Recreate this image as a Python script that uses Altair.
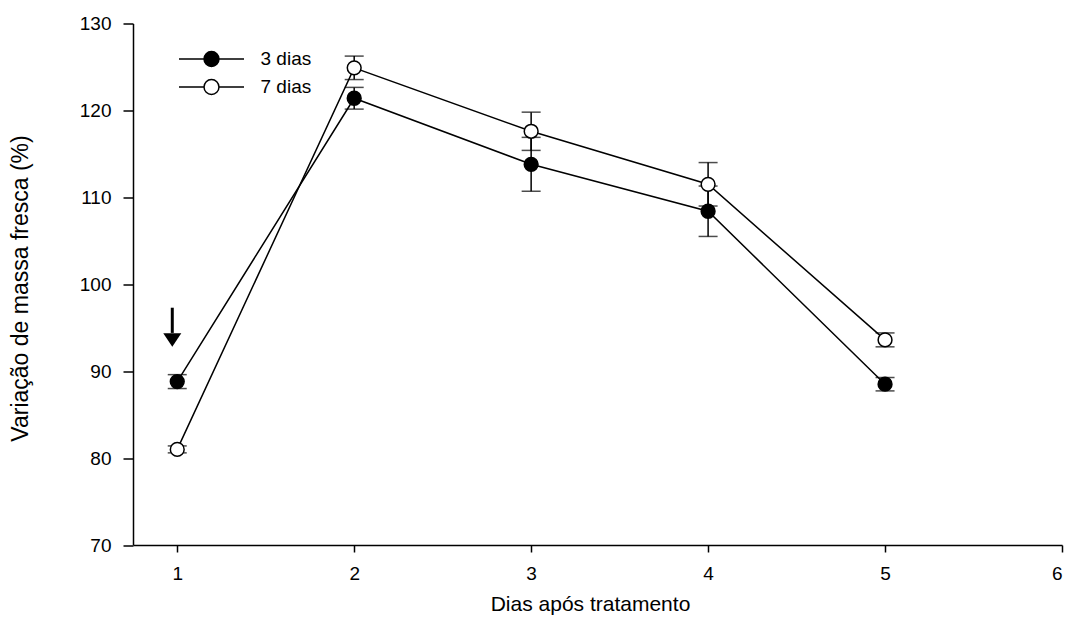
import altair as alt
import pandas as pd

# Fresh-mass variation per day after treatment, two treatment lengths
days = [1, 2, 3, 4, 5]
mean_3 = [88.8, 121.4, 113.8, 108.4, 88.5]
err_3 = [0.8, 1.25, 3.1, 2.9, 0.77]
mean_7 = [81.0, 124.9, 117.6, 111.5, 93.6]
err_7 = [0.4, 1.35, 2.2, 2.5, 0.8]
series = ["3 dias", "7 dias"]

# Arrow marking day 1
arrow_x = [0.972]
arrow_top = [97.3]
arrow_base = [94.4]
arrow_head = [93.6]

rows = []
for name, means, errs in ((series[0], mean_3, err_3), (series[1], mean_7, err_7)):
    for d, m, e in zip(days, means, errs):
        rows.append({"dia": d, "serie": name, "media": m, "lo": m - e, "hi": m + e})
df = pd.DataFrame(rows)
arrow_df = pd.DataFrame({"x": arrow_x, "top": arrow_top, "base": arrow_base, "head": arrow_head})

FONT = "Liberation Sans"

x_scale = alt.Scale(domain=[0.75, 6], nice=False, zero=False)
y_scale = alt.Scale(domain=[70, 130], nice=False, zero=False)

x_axis = alt.Axis(
    values=[1, 2, 3, 4, 5, 6], format="d", title="Dias após tratamento",
    tickSize=7, labelPadding=12, titleX=457, titleY=48, titleBaseline="top",
    titleAnchor="start", titleAlign="center",
)
y_axis = alt.Axis(
    values=[70, 80, 90, 100, 110, 120, 130], format="d",
    title="Variação de massa fresca (%)", tickSize=10, labelPadding=12,
    titleX=-101, titleY=264.5, titleAnchor="start", titleAlign="center",
    titleFontSize=23,
)

base = alt.Chart(df)

lines = base.mark_line(color="black", strokeWidth=1.5).encode(
    x=alt.X("dia:Q", scale=x_scale, axis=x_axis),
    y=alt.Y("media:Q", scale=y_scale, axis=y_axis),
    detail="serie:N",
)

bars = base.mark_rule(color="black", strokeWidth=1.5).encode(
    x="dia:Q", y="lo:Q", y2="hi:Q"
)
cap_lo = base.mark_tick(color="black", orient="horizontal", size=19, thickness=1.5).encode(
    x="dia:Q", y="lo:Q"
)
cap_hi = base.mark_tick(color="black", orient="horizontal", size=19, thickness=1.5).encode(
    x="dia:Q", y="hi:Q"
)

legend_symbol = (
    "M-1,0H-0.23 M0.23,0H1 "
    "M-0.23,0A0.23,0.23 0 1,0 0.23,0A0.23,0.23 0 1,0 -0.23,0Z"
)

points = base.mark_point(
    shape="circle", size=190, filled=True, stroke="black", strokeWidth=1.5, opacity=1
).encode(
    x="dia:Q",
    y="media:Q",
    fill=alt.Fill(
        "serie:N",
        scale=alt.Scale(domain=series, range=["black", "white"]),
        legend=alt.Legend(
            title=None, orient="none", legendX=45, legendY=21.6,
            symbolType=legend_symbol, symbolSize=4225,
            symbolStrokeColor="black", symbolStrokeWidth=1.5,
            clipHeight=27.7, rowPadding=0, padding=0,
            labelOffset=15.5, labelFontSize=19, labelFont=FONT,
            labelColor="black",
        ),
    ),
)

arrow_shaft = alt.Chart(arrow_df).mark_rule(color="black", strokeWidth=3).encode(
    x="x:Q", y="top:Q", y2="base:Q"
)
arrow_tip = alt.Chart(arrow_df).mark_point(
    shape="M-1,-0.75L1,-0.75L0,0.75Z", size=324, filled=True, color="black", opacity=1
).encode(x="x:Q", y="head:Q")

chart = alt.layer(lines, bars, cap_lo, cap_hi, points, arrow_shaft, arrow_tip).properties(
    width=929,
    height=521.5,
    autosize=alt.AutoSizeParams(type="none"),
    padding={"left": 133, "top": 23.5, "right": 7, "bottom": 82},
).configure_view(stroke=None).configure_axis(
    grid=False,
    domainColor="black", domainWidth=1.5,
    tickColor="black", tickWidth=1.5,
    labelFont=FONT, labelFontSize=19, labelColor="black",
    titleFont=FONT, titleFontSize=21, titleColor="black", titleFontWeight="normal",
)

chart.save("out.html", embed_options={"renderer": "svg", "actions": False})
